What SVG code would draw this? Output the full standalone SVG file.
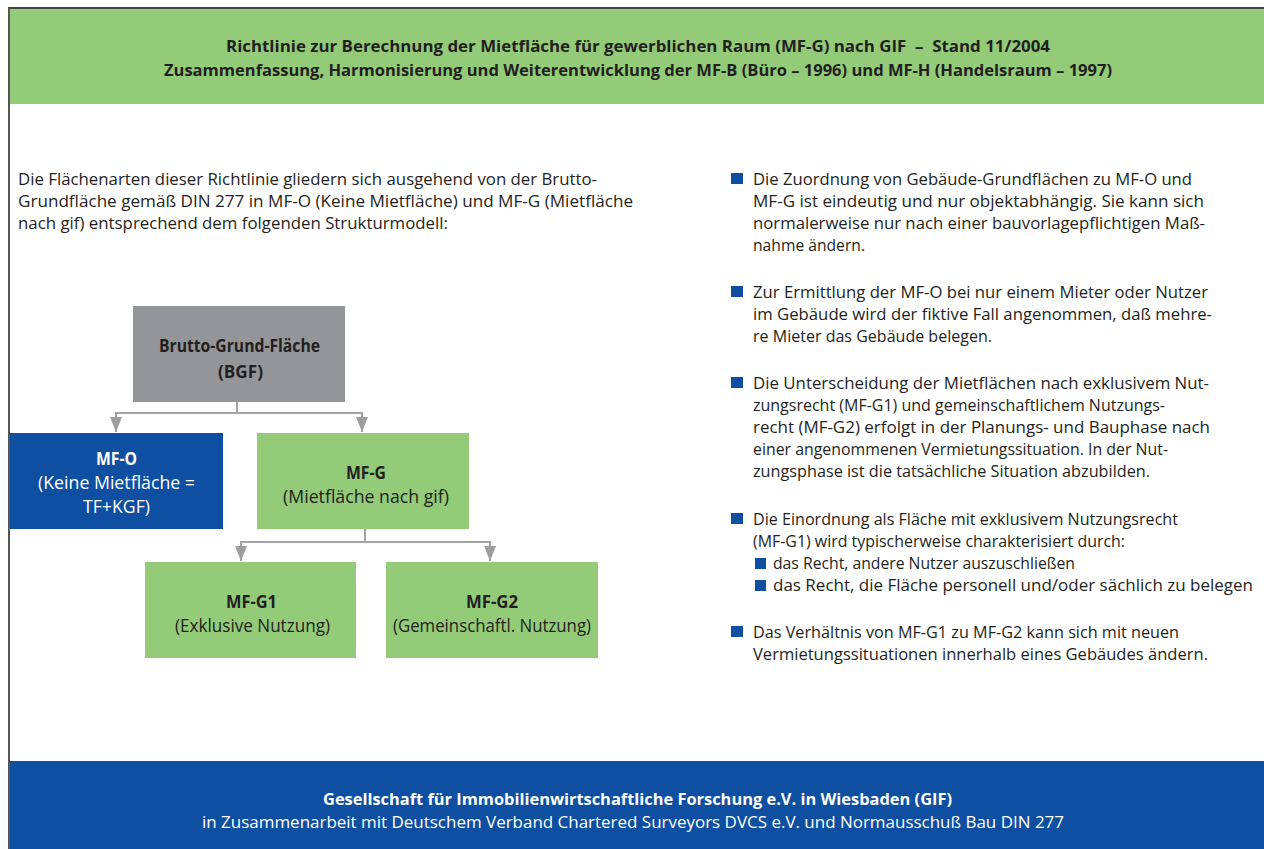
<svg xmlns="http://www.w3.org/2000/svg" width="1264" height="849" viewBox="0 0 1264 849">
<defs>
<style>
text{font-family:"Open Sans","Noto Sans","Liberation Sans",sans-serif;fill:#231f20;}
.b{font-weight:bold;}
.hd{font-size:15.5px;font-weight:bold;text-anchor:middle;}
.body{font-size:16.5px;}
.bx{font-size:18px;text-anchor:middle;}
.w{fill:#ffffff;}
.conn{stroke:#a3a3a5;stroke-width:2;fill:none;}
.sq{fill:#0e4fa1;}
</style>
<marker id="ah" viewBox="0 0 15 12" refX="15" refY="6" markerWidth="15" markerHeight="12" markerUnits="userSpaceOnUse" orient="auto-start-reverse">
<path d="M0,0 L15,6 L0,12 Z" fill="#9d9ea0"/>
</marker>
</defs>
<rect x="0" y="0" width="1264" height="849" fill="#ffffff"/>
<g id="header">
<rect x="9" y="9" width="1255" height="95" fill="#93cb78"/>
<text class="hd" x="638" y="52" textLength="824" lengthAdjust="spacingAndGlyphs">Richtlinie zur Berechnung der Mietfläche für gewerblichen Raum (MF-G) nach GIF&#160; –&#160; Stand 11/2004</text>
<text class="hd" x="638" y="76" textLength="948" lengthAdjust="spacingAndGlyphs">Zusammenfassung, Harmonisierung und Weiterentwicklung der MF-B (Büro – 1996) und MF-H (Handelsraum – 1997)</text>
</g>
<g id="footer">
<rect x="9" y="761" width="1255" height="88" fill="#0e4fa1"/>
<text class="hd w" x="637.5" y="805" textLength="629" lengthAdjust="spacingAndGlyphs" style="font-size:16px">Gesellschaft für Immobilienwirtschaftliche Forschung e.V. in Wiesbaden (GIF)</text>
<text class="w" x="633" y="828" text-anchor="middle" font-size="16.5" textLength="862" lengthAdjust="spacingAndGlyphs">in Zusammenarbeit mit Deutschem Verband Chartered Surveyors DVCS e.V. und Normausschuß Bau DIN 277</text>
</g>
<g id="frame">
<line x1="8" y1="8" x2="1264" y2="8" stroke="#444" stroke-width="2"/>
<line x1="9" y1="8" x2="9" y2="849" stroke="#555" stroke-width="2"/>
</g>
<g id="intro" class="body">
<text x="18" y="185" textLength="579" lengthAdjust="spacingAndGlyphs">Die Flächenarten dieser Richtlinie gliedern sich ausgehend von der Brutto-</text>
<text x="18" y="207" textLength="615" lengthAdjust="spacingAndGlyphs">Grundfläche gemäß DIN 277 in MF-O (Keine Mietfläche) und MF-G (Mietfläche</text>
<text x="18" y="229" textLength="430" lengthAdjust="spacingAndGlyphs">nach gif) entsprechend dem folgenden Strukturmodell:</text>
</g>
<g id="connectors">
<polyline class="conn" points="237,402 237,413"/>
<polyline class="conn" points="116,432 116,413 362,413 362,432" marker-start="url(#ah)" marker-end="url(#ah)"/>
<polyline class="conn" points="365,529 365,542"/>
<polyline class="conn" points="241,561 241,542 490,542 490,561" marker-start="url(#ah)" marker-end="url(#ah)"/>
</g>
<g id="node-bgf">
<rect x="133" y="306" width="212" height="96" fill="#939598"/>
<text class="bx b" x="239.5" y="352" textLength="161" lengthAdjust="spacingAndGlyphs">Brutto-Grund-Fläche</text>
<text class="bx b" x="240.5" y="378" textLength="45" lengthAdjust="spacingAndGlyphs">(BGF)</text>
</g>
<g id="node-mfo">
<rect x="10" y="433" width="213" height="96" fill="#0e4fa1"/>
<text class="bx b w" x="116.5" y="465" textLength="41" lengthAdjust="spacingAndGlyphs">MF-O</text>
<text class="bx w" x="116.5" y="489" textLength="157" lengthAdjust="spacingAndGlyphs">(Keine Mietfläche =</text>
<text class="bx w" x="116.5" y="513" textLength="67" lengthAdjust="spacingAndGlyphs">TF+KGF)</text>
</g>
<g id="node-mfg">
<rect x="257" y="433" width="212" height="96" fill="#93cb78"/>
<text class="bx b" x="366" y="479" textLength="40" lengthAdjust="spacingAndGlyphs">MF-G</text>
<text class="bx" x="366" y="503" textLength="166" lengthAdjust="spacingAndGlyphs">(Mietfläche nach gif)</text>
</g>
<g id="node-mfg1">
<rect x="145" y="562" width="211" height="96" fill="#93cb78"/>
<text class="bx b" x="251.5" y="608" textLength="51" lengthAdjust="spacingAndGlyphs">MF-G1</text>
<text class="bx" x="252.5" y="632" textLength="155" lengthAdjust="spacingAndGlyphs">(Exklusive Nutzung)</text>
</g>
<g id="node-mfg2">
<rect x="386" y="562" width="212" height="96" fill="#93cb78"/>
<text class="bx b" x="492" y="608" textLength="52" lengthAdjust="spacingAndGlyphs">MF-G2</text>
<text class="bx" x="492" y="632" textLength="198" lengthAdjust="spacingAndGlyphs">(Gemeinschaftl. Nutzung)</text>
</g>
<g id="bullets" class="body">
<rect class="sq" x="731" y="173" width="12" height="11"/>
<text x="753" y="185" textLength="439" lengthAdjust="spacingAndGlyphs">Die Zuordnung von Gebäude-Grundflächen zu MF-O und</text>
<text x="753" y="207" textLength="451" lengthAdjust="spacingAndGlyphs">MF-G ist eindeutig und nur objektabhängig. Sie kann sich</text>
<text x="753" y="229" textLength="452" lengthAdjust="spacingAndGlyphs">normalerweise nur nach einer bauvorlagepflichtigen Maß-</text>
<text x="753" y="251" textLength="112" lengthAdjust="spacingAndGlyphs">nahme ändern.</text>
<rect class="sq" x="731" y="286" width="12" height="11"/>
<text x="753" y="298" textLength="455" lengthAdjust="spacingAndGlyphs">Zur Ermittlung der MF-O bei nur einem Mieter oder Nutzer</text>
<text x="753" y="320" textLength="459" lengthAdjust="spacingAndGlyphs">im Gebäude wird der fiktive Fall angenommen, daß mehre-</text>
<text x="753" y="342" textLength="239" lengthAdjust="spacingAndGlyphs">re Mieter das Gebäude belegen.</text>
<rect class="sq" x="731" y="377" width="12" height="11"/>
<text x="753" y="389" textLength="456" lengthAdjust="spacingAndGlyphs">Die Unterscheidung der Mietflächen nach exklusivem Nut-</text>
<text x="753" y="411" textLength="412" lengthAdjust="spacingAndGlyphs">zungsrecht (MF-G1) und gemeinschaftlichem Nutzungs-</text>
<text x="753" y="433" textLength="457" lengthAdjust="spacingAndGlyphs">recht (MF-G2) erfolgt in der Planungs- und Bauphase nach</text>
<text x="753" y="455" textLength="415" lengthAdjust="spacingAndGlyphs">einer angenommenen Vermietungssituation. In der Nut-</text>
<text x="753" y="477" textLength="397" lengthAdjust="spacingAndGlyphs">zungsphase ist die tatsächliche Situation abzubilden.</text>
<rect class="sq" x="731" y="513" width="12" height="11"/>
<text x="753" y="525" textLength="425" lengthAdjust="spacingAndGlyphs">Die Einordnung als Fläche mit exklusivem Nutzungsrecht</text>
<text x="753" y="547" textLength="372" lengthAdjust="spacingAndGlyphs">(MF-G1) wird typischerweise charakterisiert durch:</text>
<rect class="sq" x="755" y="558" width="11" height="11"/>
<text x="773" y="569" textLength="302" lengthAdjust="spacingAndGlyphs">das Recht, andere Nutzer auszuschließen</text>
<rect class="sq" x="755" y="580" width="11" height="11"/>
<text x="773" y="591" textLength="480" lengthAdjust="spacingAndGlyphs">das Recht, die Fläche personell und/oder sächlich zu belegen</text>
<rect class="sq" x="731" y="626" width="12" height="11"/>
<text x="753" y="638" textLength="426" lengthAdjust="spacingAndGlyphs">Das Verhältnis von MF-G1 zu MF-G2 kann sich mit neuen</text>
<text x="753" y="660" textLength="455" lengthAdjust="spacingAndGlyphs">Vermietungssituationen innerhalb eines Gebäudes ändern.</text>
</g>
</svg>
